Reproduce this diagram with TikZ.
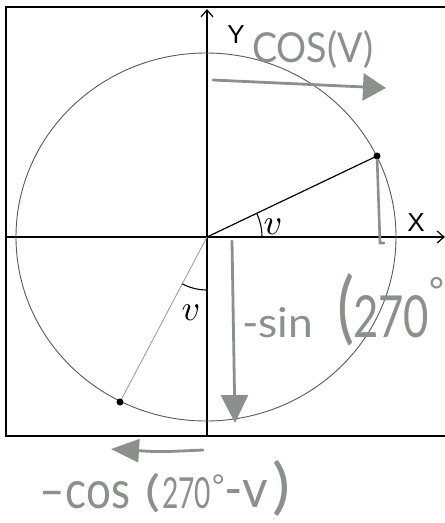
\documentclass[tikz,border=0pt]{standalone}
\usepackage{fontspec}
\setmainfont{Liberation Sans}
\newfontfamily\handfont{Lato}
\usepackage{graphicx}
\usetikzlibrary{arrows.meta}
\definecolor{hand}{RGB}{138,144,140}
\definecolor{handarr}{RGB}{140,144,141}
\definecolor{circ}{RGB}{90,90,90}
\newcommand{\hwbox}[3]{\resizebox{#1}{#2}{\handfont #3}}
\begin{document}
\begin{tikzpicture}[x=1pt,y=-1pt,
  frameline/.style={line width=1.6pt, black},
  axis/.style={line width=1.2pt, black},
  hw/.style={inner sep=0pt, outer sep=0pt, anchor=base west, text=hand},
  harrow/.style={line width=2.8pt, draw=handarr, fill=handarr, line cap=round},
  lab/.style={font=\fontsize{26}{26}\selectfont, inner sep=0pt},
  anglab/.style={inner sep=0pt},
  dot/.style={circle, fill=black, inner sep=0pt, minimum size=7pt}
]
\useasboundingbox (0,0) rectangle (445,523);
\fill[white] (0,0) rectangle (445,523);
\clip (0,0) rectangle (445,523);

% frame
\draw[frameline] (450,7) -- (6,7) -- (6,436) -- (450,436);

% origin and points
\coordinate (O) at (207,237);
\coordinate (xl) at (6,237);
\coordinate (xr) at (445,237);
\coordinate (yb) at (207,436);
\coordinate (yt) at (207,9);
\coordinate (P1) at (377,156);
\coordinate (P2) at (120,402);

% axes
\draw[axis, -{Straight Barb[length=7pt,width=12pt]}] (xl) -- (xr);
\draw[axis, -{Straight Barb[length=7pt,width=12pt]}] (yb) -- (yt);

% circle
\draw[circ, line width=0.9pt] (206,237) ellipse [x radius=190, y radius=184];

% radii
\draw[line width=1.2pt] (O) -- (P1);
\draw[line width=0.8pt, black!40] (O) -- (P2);

% angle arcs
\draw[line width=1.1pt] (O) ++(0:55) arc[start angle=0, end angle=-25.5, radius=55];
\draw[line width=1.1pt] (O) ++(90:53) arc[start angle=90, end angle=118, radius=53];

\node[dot] (d1) at (P1) {};
\node[dot] (d2) at (P2) {};

% labels
\node[lab] (ylab) at (236,35) {Y};
\node[lab] (xlab) at (416,223) {X};
\node[anglab] (v1) at (273,227) {\scalebox{3.6}{$v$}};
\node[anglab] (v2) at (191,313) {\scalebox{3.6}{$v$}};

% handwritten arrows
\coordinate (a1s) at (213,80);
\coordinate (a1e) at (386,88);
\draw[harrow, -{Triangle[length=23pt,width=27pt]}] (a1s) .. controls (300,84) .. (a1e);
\coordinate (a2s) at (232,241);
\coordinate (a2e) at (235,423);
\draw[harrow, -{Triangle[length=28pt,width=27pt]}] (a2s) -- (a2e);
\coordinate (a3s) at (203,450);
\coordinate (a3e) at (111,449);
\draw[harrow, -{Triangle[length=28pt,width=23pt]}] (a3s) .. controls (160,452) .. (a3e);
\coordinate (p1b) at (380,243);
\draw[line width=2.6pt, draw=handarr, line cap=round] (d1) -- (p1b) -- (384,243);

% handwritten texts
\node[hw] (tcos) at (252,62) {\hwbox{121pt}{32pt}{COS(V)}};
\node[hw] (tsin) at (242,337) {\hwbox{71pt}{30pt}{-sin}};
\node[hw] (tpar) at (337,334) {\hwbox{17pt}{61pt}{(}};
\node[hw] (t270) at (353,337) {\hwbox{76pt}{42pt}{270}};
\node[hw] (tdeg) at (429,303) {\fontsize{36}{36}\selectfont\handfont °};

\node[hw] (bcos) at (40,508) {\hwbox{90pt}{27pt}{–cos}};
\node[hw] (bpar) at (146,506) {\hwbox{15pt}{33pt}{(}};
\node[hw] (b270) at (162,508) {\hwbox{49pt}{31pt}{270}};
\node[hw] (bdeg) at (212,496) {\fontsize{30}{30}\selectfont\handfont °};
\node[hw] (bv) at (224,507) {\hwbox{44pt}{27pt}{-v}};
\node[hw] (bpar2) at (272,507) {\hwbox{18pt}{47pt}{)}};
\end{tikzpicture}
\end{document}
